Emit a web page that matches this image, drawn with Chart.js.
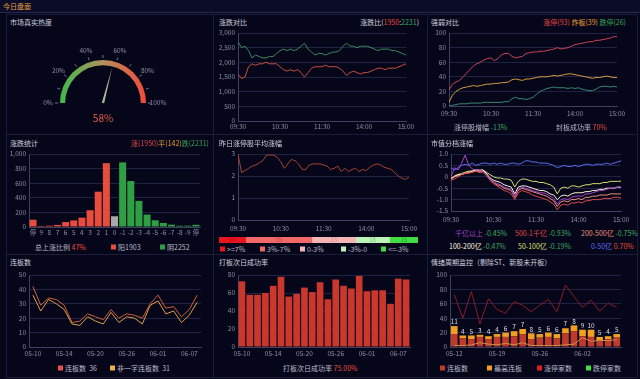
<!DOCTYPE html>
<html>
<head>
<meta charset="utf-8">
<script src="https://cdn.jsdelivr.net/npm/chart.js@4.4.1/dist/chart.umd.min.js"></script>
<style>
html, body { margin: 0; padding: 0; background: #06061a; width: 640px; height: 379px; overflow: hidden; font-family: "Noto Sans CJK SC", "Noto Sans", sans-serif; }
#stage { position: relative; width: 640px; height: 379px; }
.t { position: absolute; white-space: nowrap; line-height: 1; transform: translateY(-50%); }
.box { position: absolute; border: 1px solid #1a1d3a; box-sizing: border-box; }
canvas { position: absolute; }
.sq { display: inline-block; width: 5px; height: 5px; margin-right: 2px; vertical-align: 0px; }
</style>
</head>
<body>
<div id="stage"></div>
<script>
// ---- 数据 ----
const heatValue = 58;
const gaugeTicks = [0, 10, 20, 30, 40, 50, 60, 70, 80, 90, 100];
const gaugeLabels = [0, 20, 40, 60, 80, 100];

const timeTicks = ['09:30', '10:30', '11:30', '14:00', '15:00'];

// 涨跌对比 (每5分钟)
const upCount = [1600,1450,1500,1850,1950,1900,1950,1950,2000,1950,
  1950,1950,1850,1750,1700,1750,1700,1750,1650,1500,
  1650,1800,1850,1850,1850,1900,1850,1850,1850,1800,
  1700,1550,1650,1700,1650,1600,1650,1650,1700,1750,
  1800,1800,1750,1800,1800,1800,1850,1900,1950];
const downCount = [2700,2500,2550,2400,2150,2250,2200,2150,2150,2200,
  2200,2300,2400,2450,2400,2450,2400,2450,2550,2650,
  2450,2350,2250,2300,2300,2250,2300,2350,2350,2400,
  2550,2650,2550,2550,2500,2550,2550,2550,2500,2450,
  2400,2450,2450,2450,2400,2400,2350,2300,2250];

// 强弱对比
const limitUp = [22,30,33,35,40,45,50,55,58,60,
  63,65,66,62,65,70,72,72,68,66,
  67,68,72,73,74,74,75,75,76,77,
  78,80,78,79,80,82,84,85,86,87,
  88,88,90,90,91,92,93,95,95];
const brokeUp = [5,15,20,23,25,26,27,28,27,28,
  29,30,30,31,31,32,32,33,36,37,
  36,35,37,37,38,39,40,40,40,41,
  42,41,42,43,44,44,43,42,41,40,
  39,38,39,39,40,41,40,39,39];
const limitDown = [0,1,2,3,3,3,4,4,4,4,
  5,5,5,5,5,5,6,6,10,12,
  10,10,9,10,12,16,20,22,24,25,
  26,25,25,25,24,25,24,25,23,22,
  21,21,23,26,27,27,26,27,26];

// 涨跌统计
const distLabels = ['停','9','8','7','6','5','4','3','2','1','0','-1','-2','-3','-4','-5','-6','-7','-8','-9','停'];
const distCounts = [100,15,18,28,68,90,128,230,484,875,147,885,630,358,170,92,55,32,18,18,30];

// 昨日涨停股平均涨幅
const avgRise = [3.0,2.15,2.25,2.35,2.45,2.5,2.6,2.7,2.95,2.95,
  2.95,2.85,2.65,2.35,2.55,2.75,2.7,2.55,2.3,2.3,
  2.5,2.55,2.55,2.55,2.5,2.45,2.3,2.35,2.45,2.2,
  2.35,2.2,2.3,2.35,2.2,2.3,2.25,2.4,2.5,2.55,
  2.5,2.4,2.35,2.3,2.15,2.0,1.9,1.85,1.95];
const riseBands = ['>=7%', '3%-7%', '0-3%', '-3%-0', '<=-3%'];
const riseBandCounts = [14, 35, 23, 18, 15];

// 市值分档涨幅
const capNames = ['千亿以上', '500-1千亿', '200-500亿', '100-200亿', '50-100亿', '0-50亿'];
const capLast = ['-0.45%', '-0.93%', '-0.75%', '-0.47%', '-0.19%', '0.70%'];
const capOver1000 = [0.0,0.4,0.3,0.6,0.95,0.5,0.35,0.3,0.3,0.25,
  0.1,-0.1,-0.2,-0.3,-0.35,-0.45,-0.5,-0.55,-0.85,-0.55,
  -0.45,-0.5,-0.55,-0.6,-0.65,-0.7,-0.7,-0.75,-0.85,-0.95,
  -1.2,-1.0,-0.95,-1.0,-0.9,-0.85,-0.85,-0.85,-0.75,-0.75,
  -0.7,-0.65,-0.6,-0.6,-0.55,-0.5,-0.5,-0.45,-0.45];
const cap500 = [-0.15,-0.1,0.0,0.1,0.15,0.15,0.2,0.25,0.2,0.2,
  0.05,-0.15,-0.3,-0.4,-0.5,-0.6,-0.65,-0.75,-1.0,-0.7,
  -0.6,-0.65,-0.7,-0.8,-0.85,-0.9,-0.95,-1.0,-1.1,-1.2,
  -1.45,-1.25,-1.2,-1.25,-1.15,-1.15,-1.1,-1.15,-1.05,-1.05,
  -1.0,-1.0,-1.0,-0.95,-0.95,-0.95,-0.9,-0.9,-0.93];
const cap200 = [-0.1,0.0,0.05,0.1,0.15,0.2,0.2,0.25,0.2,0.25,
  0.1,-0.1,-0.25,-0.35,-0.4,-0.5,-0.55,-0.6,-0.9,-0.6,
  -0.5,-0.55,-0.6,-0.65,-0.7,-0.75,-0.8,-0.85,-0.95,-1.05,
  -1.3,-1.1,-1.05,-1.1,-1.0,-1.0,-0.95,-1.0,-0.9,-0.9,
  -0.85,-0.85,-0.8,-0.8,-0.8,-0.75,-0.75,-0.75,-0.75];
const cap100 = [-0.05,0.0,0.1,0.1,0.15,0.2,0.25,0.3,0.25,0.3,
  0.15,-0.05,-0.15,-0.2,-0.25,-0.35,-0.4,-0.45,-0.75,-0.45,
  -0.4,-0.4,-0.45,-0.5,-0.55,-0.6,-0.6,-0.65,-0.75,-0.8,
  -1.0,-0.85,-0.8,-0.85,-0.75,-0.7,-0.7,-0.7,-0.65,-0.65,
  -0.6,-0.6,-0.55,-0.55,-0.5,-0.5,-0.5,-0.45,-0.47];
const cap50 = [-0.1,0.05,0.1,0.15,0.2,0.25,0.25,0.3,0.3,0.3,
  0.2,0.1,0.0,-0.05,-0.05,-0.1,-0.1,-0.15,-0.45,-0.2,
  -0.1,-0.1,-0.15,-0.2,-0.2,-0.25,-0.25,-0.3,-0.35,-0.45,
  -0.75,-0.5,-0.45,-0.5,-0.4,-0.4,-0.45,-0.4,-0.35,-0.35,
  -0.3,-0.3,-0.3,-0.25,-0.25,-0.2,-0.2,-0.2,-0.19];
const cap0 = [0.4,0.3,0.4,0.5,0.55,0.5,0.6,0.5,0.55,0.6,
  0.6,0.55,0.6,0.55,0.6,0.55,0.55,0.6,0.6,0.55,
  0.6,0.7,0.7,0.65,0.65,0.6,0.6,0.6,0.55,0.5,
  0.4,0.45,0.5,0.45,0.45,0.5,0.45,0.5,0.55,0.55,
  0.5,0.55,0.55,0.55,0.6,0.55,0.6,0.65,0.7];

// 连板数 / 打板次日成功率
const days = ['05-10','05-11','05-12','05-13','05-14','05-15','05-16','05-17','05-20','05-21','05-22',
  '05-23','05-26','05-27','05-28','05-29','06-01','06-02','06-03','06-04','06-07','06-08'];
const boardCount = [42,29,34,33,29,17,18,23,21,19,26,20,23,22,20,30,36,27,28,21,26,36];
const nonOneWord = [36,25,33,30,26,16,15,21,18,16,24,17,21,20,16,29,32,23,25,17,22,31];
const successRate = [73,58,58,60,68,78,56,59,66,61,72,53,75,68,65,79,62,63,63,48,76,75];

// 情绪周期监控
const cycleDays = ['05-12','05-13','05-14','05-15','05-16','05-19','05-20','05-21','05-22','05-23',
  '05-26','05-27','05-28','05-29','05-30','06-02','06-03','06-04','06-05','06-06'];
const boardNum = [18,12,11,14,11,14,14,15,18,11,13,14,12,19,22,15,14,9,11,13];
const maxBoard = [11,4,5,3,4,4,6,7,7,8,5,6,6,7,8,9,10,5,4,5];
const limitUpNum = [73,40,77,32,67,52,47,63,58,49,58,66,49,86,70,55,65,50,61,55];
const limitDownNum = [2,2,3,6,4,3,5,3,6,2,2,2,2,3,4,13,8,9,9,10];

// ---- 样式 ----
const FONT = '"Noto Sans CJK SC", "Noto Sans", sans-serif';
const GRID = '#1f2242';
const AXIS = '#3d4060';
const TICK = '#8c8fa6';
const RED = '#e84a3c';
const GREEN = '#3aa860';
const ORANGE = '#e8a030';

Chart.defaults.font.family = FONT;
Chart.defaults.font.size = 6.5;
Chart.defaults.color = TICK;
Chart.defaults.animation = false;
Chart.defaults.plugins.legend.display = false;
Chart.defaults.plugins.tooltip.enabled = false;

const stage = document.getElementById('stage');

function txt(x, y, html, size, color, align) {
  const d = document.createElement('div');
  d.className = 't';
  d.style.left = x + 'px';
  d.style.top = y + 'px';
  d.style.fontSize = size + 'px';
  d.style.color = color;
  if (align === 'r') d.style.transform = 'translate(-100%,-50%)';
  if (align === 'c') d.style.transform = 'translate(-50%,-50%)';
  d.innerHTML = html;
  stage.appendChild(d);
}
const c = (col, s) => `<span style="color:${col}">${s}</span>`;
const sq = col => `<span class="sq" style="background:${col}"></span>`;

function canvasAt(x, y, w, h) {
  const cv = document.createElement('canvas');
  cv.width = w; cv.height = h;
  cv.style.left = x + 'px'; cv.style.top = y + 'px';
  cv.style.width = w + 'px'; cv.style.height = h + 'px';
  stage.appendChild(cv);
  return cv;
}

// plot = [left, top, right, bottom] of the plot area; pad = [yAxisW, top, right, xAxisH]
function mk(plot, pad, cfg) {
  const w = plot[2] - plot[0] + pad[0] + pad[2];
  const h = plot[3] - plot[1] + pad[1] + pad[3];
  const cv = canvasAt(plot[0] - pad[0], plot[1] - pad[1], w, h);
  cfg.options.responsive = false;
  cfg.options.devicePixelRatio = 1;
  cfg.options.layout = { padding: { left: 0, top: pad[1], right: pad[2], bottom: 0 } };
  cfg.options.scales.x.afterFit = s => { s.height = pad[3]; s.paddingLeft = 0; s.paddingRight = 0; };
  cfg.options.scales.y.afterFit = s => { s.width = pad[0]; s.paddingTop = 0; s.paddingBottom = 0; };
  return new Chart(cv, cfg);
}

function yAxis(min, max, step) {
  return {
    min: min, max: max,
    ticks: { stepSize: step, padding: 3 },
    grid: { color: GRID, drawTicks: false },
    border: { color: AXIS }
  };
}

function timeAxis(tickPad) {
  return {
    type: 'linear', min: 0, max: 48,
    ticks: { stepSize: 12, padding: tickPad, maxRotation: 0, callback: v => timeTicks[v / 12] },
    grid: { display: false, drawTicks: false },
    border: { color: AXIS }
  };
}

function lineSet(values, color) {
  return { data: values.map((v, i) => ({ x: i, y: v })), borderColor: color, borderWidth: 1, pointRadius: 0, tension: 0 };
}

function dayAxis(labels, every, tickPad) {
  return {
    ticks: { padding: tickPad, autoSkip: false, maxRotation: 0, callback: (v, i) => (i % every === 0 ? labels[i] : '') },
    grid: { display: false, drawTicks: false },
    border: { color: AXIS }
  };
}

// ---- 框架 ----
const hdr = document.createElement('div');
hdr.style.cssText = 'position:absolute;left:0;top:0;width:640px;height:12px;background:#0b0c27;border-bottom:1px solid #272a4c;';
stage.appendChild(hdr);
txt(3, 6, '今日盘面', 7, '#e8a048');

const colX = [6, 213, 427, 637];
const rowY = [14, 134, 254, 377];
for (let r = 0; r < 3; r++) {
  for (let k = 0; k < 3; k++) {
    const b = document.createElement('div');
    b.className = 'box';
    b.style.left = colX[k] + 'px';
    b.style.top = rowY[r] + 'px';
    b.style.width = (colX[k + 1] - colX[k] + 1) + 'px';
    b.style.height = (rowY[r + 1] - rowY[r] + 1) + 'px';
    stage.appendChild(b);
  }
}

const TITLE = '#cfd0de';
const LBL = '#b8bacb';

// ---- 1 市场真实热度 ----
txt(10, 22, '市场真实热度', 7, TITLE);
const gaugeDeco = {
  id: 'gaugeDeco',
  afterDraw(chart) {
    const arc = chart.getDatasetMeta(0).data[0];
    const { x, y, outerRadius } = arc;
    const ctx = chart.ctx;
    ctx.save();
    ctx.strokeStyle = '#70738a';
    ctx.lineWidth = 1;
    gaugeTicks.forEach(p => {
      const a = Math.PI + p / 100 * Math.PI;
      ctx.beginPath();
      ctx.moveTo(x + Math.cos(a) * (outerRadius + 2), y + Math.sin(a) * (outerRadius + 2));
      ctx.lineTo(x + Math.cos(a) * (outerRadius + 5), y + Math.sin(a) * (outerRadius + 5));
      ctx.stroke();
    });
    ctx.fillStyle = TICK;
    ctx.font = '6.5px ' + FONT;
    ctx.textAlign = 'center';
    ctx.textBaseline = 'middle';
    gaugeLabels.forEach(p => {
      const a = Math.PI + p / 100 * Math.PI;
      const r = outerRadius + 12;
      ctx.fillText(p + '%', x + Math.cos(a) * r, y + Math.sin(a) * r);
    });
    const a = Math.PI + heatValue / 100 * Math.PI;
    const tipR = outerRadius - 6;
    const px = Math.cos(a + Math.PI / 2) * 1.2, py = Math.sin(a + Math.PI / 2) * 1.2;
    ctx.fillStyle = '#a9b99c';
    ctx.beginPath();
    ctx.moveTo(x + Math.cos(a) * tipR, y + Math.sin(a) * tipR);
    ctx.lineTo(x + px, y + py);
    ctx.lineTo(x - px, y - py);
    ctx.closePath();
    ctx.fill();
    ctx.restore();
  }
};
new Chart(canvasAt(30, 38, 150, 80), {
  type: 'doughnut',
  data: {
    labels: ['热度'],
    datasets: [{
      data: [100],
      borderWidth: 0,
      backgroundColor: ctx => {
        const area = ctx.chart.chartArea;
        if (!area) return '#999';
        const g = ctx.chart.ctx.createLinearGradient(area.left, 0, area.right, 0);
        g.addColorStop(0, '#3dbb4a');
        g.addColorStop(0.5, '#b2915c');
        g.addColorStop(1, '#f4493b');
        return g;
      }
    }]
  },
  options: {
    responsive: false,
    devicePixelRatio: 1,
    rotation: -90,
    circumference: 180,
    cutout: '88%',
    layout: { padding: { left: 30, top: 22, right: 34, bottom: 15 } }
  },
  plugins: [gaugeDeco]
});
txt(103, 118, heatValue + '%', 10, '#e85a4a', 'c');

// ---- 2 涨跌对比 ----
txt(219, 22, '涨跌对比', 7, TITLE);
txt(419, 22, '涨跌比(' + c(RED, '1950') + ':' + c(GREEN, '2231') + ')', 7, TITLE, 'r');
mk([238, 33, 406, 121], [24, 6, 14, 12], {
  type: 'line',
  data: { datasets: [lineSet(downCount, '#3a8a5c'), lineSet(upCount, '#c4503e')] },
  options: { scales: { x: timeAxis(2), y: yAxis(0, 3000, 500) } }
});

// ---- 3 强弱对比 ----
txt(431, 22, '强弱对比', 7, TITLE);
txt(626, 22, c('#e84a4a', '涨停(93)') + ' ' + c(ORANGE, '炸板(39)') + ' ' + c('#35a558', '跌停(26)'), 7, TITLE, 'r');
mk([449, 33, 617, 106], [22, 6, 14, 12], {
  type: 'line',
  data: { datasets: [lineSet(limitUp, '#c84458'), lineSet(brokeUp, '#d49a40'), lineSet(limitDown, '#368a70')] },
  options: { scales: { x: timeAxis(3.5), y: yAxis(0, 100, 20) } }
});
txt(454, 127, '涨停股增幅 ' + c(GREEN, '-13%'), 7, LBL);
txt(556, 127, '封板成功率 ' + c(RED, '70%'), 7, LBL);

// ---- 4 涨跌统计 ----
txt(10, 143, '涨跌统计', 7, TITLE);
txt(209, 143, c('#e84a4a', '涨(1950)') + c(ORANGE, '平(142)') + c('#35a558', '跌(2231)'), 7, TITLE, 'r');
mk([29, 154, 200, 227], [24, 6, 8, 12], {
  type: 'bar',
  data: {
    labels: distLabels,
    datasets: [{
      data: distCounts,
      backgroundColor: distLabels.map((l, i) => (l === '0' ? '#a8a8a8' : (i < 10 ? '#e84c3d' : '#2ea043'))),
      borderWidth: 0,
      barPercentage: 0.86,
      categoryPercentage: 1
    }]
  },
  options: {
    scales: {
      x: { ticks: { padding: 2, autoSkip: false, maxRotation: 0 }, grid: { display: false, drawTicks: false }, border: { color: AXIS } },
      y: yAxis(0, 1000, 200)
    }
  }
});
txt(35, 247, '总上涨比例 ' + c(RED, '47%'), 7, LBL);
txt(111, 247, sq('#e84c3d') + '阳1903', 7, LBL);
txt(160, 247, sq('#2ea043') + '阴2252', 7, LBL);

// ---- 5 昨日涨停股平均涨幅 ----
txt(219, 143, '昨日涨停股平均涨幅', 7, TITLE);
mk([238, 154, 409, 220], [20, 6, 14, 12], {
  type: 'line',
  data: { datasets: [lineSet(avgRise, '#a84430')] },
  options: { scales: { x: timeAxis(4.5), y: yAxis(0, 3, 1) } }
});
const bandColors = ['#e8141e', '#f06868', '#f5b5b5', '#bdf3b6', '#44dc44'];
const bandText = ['#b80e16', '#c84848', '#d88a8a', '#7ac872', '#22a822'];
const bandLabels = {
  id: 'bandLabels',
  afterDatasetsDraw(chart) {
    const ctx = chart.ctx;
    ctx.save();
    ctx.font = '6px ' + FONT;
    ctx.textAlign = 'center';
    ctx.textBaseline = 'middle';
    chart.data.datasets.forEach((ds, i) => {
      const bar = chart.getDatasetMeta(i).data[0];
      ctx.fillStyle = bandText[i];
      ctx.fillText(ds.data[0], (bar.x + bar.base) / 2, bar.y);
    });
    ctx.restore();
  }
};
new Chart(canvasAt(219, 237, 199, 6), {
  type: 'bar',
  data: {
    labels: [''],
    datasets: riseBandCounts.map((v, i) => ({ data: [v], backgroundColor: bandColors[i], borderWidth: 0, barPercentage: 1, categoryPercentage: 1 }))
  },
  options: {
    responsive: false,
    devicePixelRatio: 1,
    indexAxis: 'y',
    layout: { padding: 0 },
    scales: {
      x: { display: false, stacked: true, min: 0, max: riseBandCounts.reduce((a, b) => a + b, 0) },
      y: { display: false, stacked: true }
    }
  },
  plugins: [bandLabels]
});
const bandX = [220, 260, 300, 341, 381];
riseBands.forEach((b, i) => txt(bandX[i], 249, sq(bandColors[i]) + b, 7, LBL));

// ---- 6 市值分档涨幅 ----
txt(431, 143, '市值分档涨幅', 7, TITLE);
const capColors = ['#a445c8', '#e04a4a', '#f0907a', '#fff6dc', '#d4e070', '#5b6cf0'];
mk([451, 154, 621, 211], [24, 6, 14, 12], {
  type: 'line',
  data: {
    datasets: [
      lineSet(capOver1000, capColors[0]), lineSet(cap500, capColors[1]), lineSet(cap200, capColors[2]),
      lineSet(cap100, capColors[3]), lineSet(cap50, capColors[4]), lineSet(cap0, capColors[5])
    ]
  },
  options: { scales: { x: timeAxis(4.5), y: yAxis(-1.5, 1, 0.5) } }
});
const capPos = [[455, 233], [515, 233], [581, 233], [449, 246], [518, 246], [591, 246]];
capNames.forEach((n, i) => {
  const vCol = capLast[i].startsWith('-') ? GREEN : RED;
  txt(capPos[i][0], capPos[i][1], c(capColors[i], n) + ' ' + c(vCol, capLast[i]), 7, LBL);
});

// ---- 7 连板数 ----
txt(10, 262, '连板数', 7, TITLE);
mk([29, 275, 201, 347], [24, 6, 8, 12], {
  type: 'line',
  data: {
    labels: days,
    datasets: [
      { data: boardCount, borderColor: '#d0603a', borderWidth: 1, pointRadius: 0, tension: 0 },
      { data: nonOneWord, borderColor: '#e0a040', borderWidth: 1, pointRadius: 0, tension: 0 }
    ]
  },
  options: { scales: { x: Object.assign(dayAxis(days, 4, 3), { offset: true }), y: yAxis(0, 50, 10) } }
});
txt(58, 368, sq('#e8504a') + '连板数&nbsp;&nbsp;' + boardCount[boardCount.length - 1], 7, LBL);
txt(110, 368, sq('#f0b040') + '非一字连板数&nbsp;&nbsp;' + nonOneWord[nonOneWord.length - 1], 7, LBL);

// ---- 8 打板次日成功率 ----
txt(219, 262, '打板次日成功率', 7, TITLE);
mk([238, 275, 410, 347], [24, 6, 8, 12], {
  type: 'bar',
  data: {
    labels: days,
    datasets: [{ data: successRate, backgroundColor: '#c9372d', borderWidth: 0, barPercentage: 0.85, categoryPercentage: 1 }]
  },
  options: { scales: { x: dayAxis(days, 4, 3), y: yAxis(0, 80, 20) } }
});
txt(283, 368, '打板次日成功率 ' + c(RED, '75.00%'), 7, LBL);

// ---- 9 情绪周期监控 ----
txt(431, 262, '情绪周期监控（剔除ST、新股未开板）', 7, TITLE);
const topLabels = {
  id: 'topLabels',
  afterDatasetsDraw(chart) {
    const meta = chart.getDatasetMeta(1);
    const ctx = chart.ctx;
    ctx.save();
    ctx.font = '6.5px ' + FONT;
    ctx.fillStyle = '#dcdce6';
    ctx.textAlign = 'center';
    ctx.textBaseline = 'bottom';
    meta.data.forEach((bar, i) => ctx.fillText(maxBoard[i], bar.x, bar.y - 1));
    ctx.restore();
  }
};
mk([450, 275, 621, 347], [22, 10, 8, 12], {
  type: 'bar',
  data: {
    labels: cycleDays,
    datasets: [
      { data: boardNum, backgroundColor: '#c0392b', borderWidth: 0, barPercentage: 0.78, categoryPercentage: 1, stack: 'b', order: 2 },
      { data: maxBoard, backgroundColor: '#f0a020', borderWidth: 0, barPercentage: 0.78, categoryPercentage: 1, stack: 'b', order: 2 },
      { type: 'line', data: limitUpNum, borderColor: '#8a1e22', borderWidth: 1, pointRadius: 0, tension: 0, stack: 'l1', order: 1 },
      { type: 'line', data: limitDownNum, borderColor: '#c89048', borderWidth: 1, pointRadius: 0, tension: 0, stack: 'l2', order: 0 }
    ]
  },
  options: {
    scales: {
      x: Object.assign(dayAxis(cycleDays, 5, 3), { stacked: true }),
      y: Object.assign(yAxis(0, 100, 20), { stacked: true })
    }
  },
  plugins: [topLabels]
});
txt(440, 368, sq('#c0392b') + '连板数', 7, LBL);
txt(487, 368, sq('#f0a020') + '最高连板', 7, LBL);
txt(537, 368, sq('#e02020') + '涨停家数', 7, LBL);
txt(586, 368, sq('#40e040') + '跌停家数', 7, LBL);
</script>
</body>
</html>
